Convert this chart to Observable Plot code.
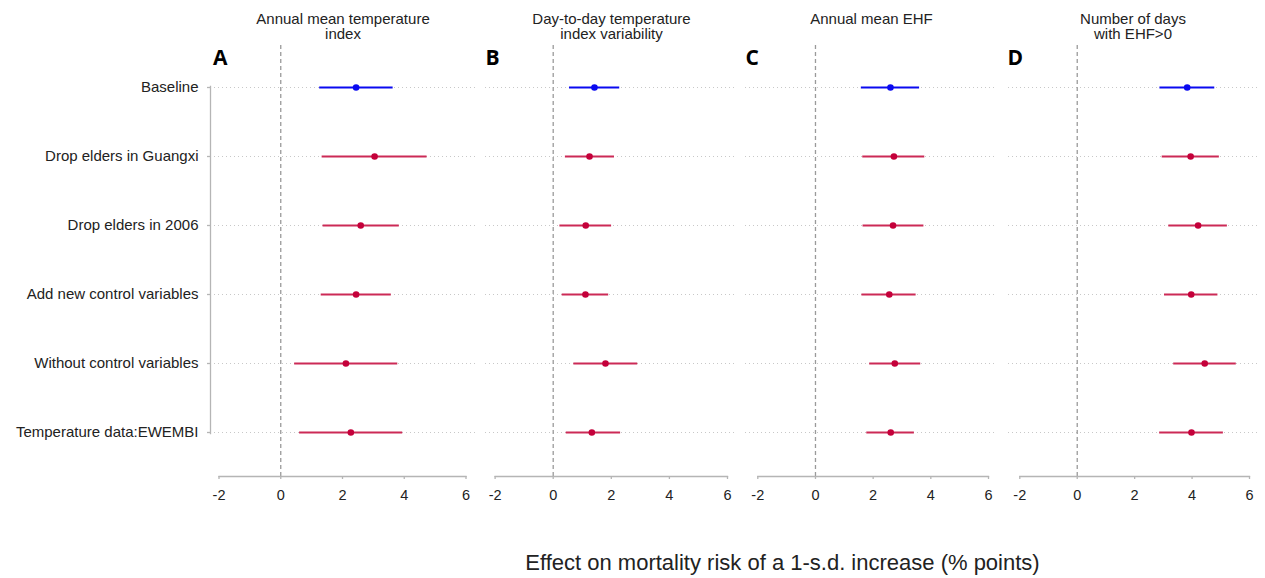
<!DOCTYPE html>
<html>
<head>
<meta charset="utf-8">
<script src="https://cdn.jsdelivr.net/npm/d3@7"></script>
<script src="https://cdn.jsdelivr.net/npm/@observablehq/plot@0.6"></script>
<style>
  body { margin: 0; background: #fff; font-family: "Liberation Sans", Arial, sans-serif; }
  #chart { position: relative; width: 1265px; height: 578px; overflow: hidden; }
  #chart svg { position: absolute; top: 0; overflow: visible; }
  #xtitle { position: absolute; left: 0; width: 1265px; top: 550px; text-align: center;
            font-size: 22px; line-height: 26px; color: #222; padding-left: 300px; box-sizing: border-box; }
</style>
</head>
<body>
<div id="chart"><div id="xtitle">Effect on mortality risk of a 1-s.d. increase (% points)</div></div>
<script>
// ---- data ----
const specifications = [
  "Baseline",
  "Drop elders in Guangxi",
  "Drop elders in 2006",
  "Add new control variables",
  "Without control variables",
  "Temperature data:EWEMBI"
];
const panelLetters = ["A", "B", "C", "D"];
const panelTitles = [
  "Annual mean temperature\nindex",
  "Day-to-day temperature\nindex variability",
  "Annual mean EHF",
  "Number of days\nwith EHF>0"
];
const xTicks = [-2, 0, 2, 4, 6];

// Panel A: annual mean temperature index
const estA  = [2.44, 3.04, 2.59, 2.44, 2.11, 2.27];
const lowA  = [1.26, 1.34, 1.37, 1.31, 0.45, 0.61];
const highA = [3.64, 4.74, 3.84, 3.58, 3.79, 3.95];
// Panel B: day-to-day temperature index variability
const estB  = [1.42, 1.25, 1.12, 1.11, 1.80, 1.33];
const lowB  = [0.56, 0.42, 0.23, 0.31, 0.71, 0.45];
const highB = [2.29, 2.11, 2.01, 1.91, 2.91, 2.32];
// Panel C: annual mean EHF
const estC  = [2.60, 2.72, 2.69, 2.56, 2.75, 2.61];
const lowC  = [1.59, 1.64, 1.65, 1.61, 1.88, 1.78];
const highC = [3.61, 3.79, 3.76, 3.49, 3.65, 3.43];
// Panel D: number of days with EHF>0
const estD  = [3.83, 3.95, 4.21, 3.97, 4.44, 3.98];
const lowD  = [2.88, 2.96, 3.19, 3.04, 3.36, 2.87];
const highD = [4.79, 4.95, 5.23, 4.90, 5.54, 5.09];

const estimates = [estA, estB, estC, estD];
const lows = [lowA, lowB, lowC, lowD];
const highs = [highA, highB, highC, highD];

// ---- layout (pixels) ----
const layout = [
  {frame: [210, 475], px: [218.5, 465.5], letterDx: 2.5},
  {frame: [485, 737], px: [494.6, 727],   letterDx: 0},
  {frame: [745, 997], px: [757.3, 988],   letterDx: 0},
  {frame: [1008, 1257], px: [1019.3, 1249], letterDx: -1}
];
const H = 520, marginTop = 45, marginBottom = H - 476;
const blue = "#0a0af0", red = "#c4003a", redLine = "#cc2a56";

const chart = document.getElementById("chart");

panelLetters.forEach((letter, p) => {
  const L = layout[p];
  const isFirst = p === 0;
  const mLeft = isFirst ? L.frame[0] : 5;
  const mRight = 5;
  const svgLeft = L.frame[0] - mLeft;
  const width = L.frame[1] - svgLeft + mRight;
  const rows = specifications.map((s, i) => ({
    spec: s, est: estimates[p][i], lo: lows[p][i], hi: highs[p][i], base: i === 0
  }));
  const insetLeft = L.px[0] - L.frame[0];
  const insetRight = L.frame[1] - L.px[1];

  const marks = [
    Plot.ruleY(specifications, {y: d => d, stroke: "#c8c8c8", strokeDasharray: "1,3", strokeWidth: 1}),
    Plot.ruleX([0], {stroke: "#9a9a9a", strokeDasharray: "4,3", strokeWidth: 1.3}),
    Plot.frame({anchor: "bottom", insetLeft, insetRight, stroke: "#b5b5b5", strokeWidth: 1.3}),
    Plot.axisX({ticks: xTicks, tickSize: 3, tickPadding: 10, tickFormat: d => String(d),
                fontSize: 14.5, fill: "#222", stroke: "#b5b5b5", strokeWidth: 1.3, label: null}),
    Plot.ruleY(rows, {y: "spec", x1: "lo", x2: "hi", stroke: d => d.base ? blue : redLine, strokeWidth: 1.8}),
    Plot.dot(rows, {x: "est", y: "spec", r: 3.3, fill: d => d.base ? blue : red, stroke: "none"}),
    Plot.text([panelTitles[p]], {text: d => d, frameAnchor: "top", lineAnchor: "top", dy: -32.3,
               fontSize: 15, fill: "#222", lineHeight: 1}),
    Plot.text([letter], {text: d => d, frameAnchor: "top-left", textAnchor: "start", lineAnchor: "top",
               dx: L.letterDx, dy: 5, fontSize: 21, fontWeight: 700, fontFamily: "Open Sans", fill: "#000"})
  ];
  if (isFirst) {
    marks.push(Plot.frame({anchor: "left", insetTop: 41, insetBottom: 43, stroke: "#b5b5b5", strokeWidth: 1.3}));
    marks.push(Plot.axisY({tickSize: 3, tickPadding: 9, fontSize: 15, fill: "#222", stroke: "#b5b5b5",
                           strokeWidth: 1.3, label: null}));
  }

  const svg = Plot.plot({
    width, height: H,
    marginLeft: mLeft, marginRight: mRight, marginTop, marginBottom,
    style: {fontFamily: "Liberation Sans, Arial, sans-serif", background: "transparent", overflow: "visible"},
    x: {domain: [-2, 6], insetLeft, insetRight, axis: null},
    y: {type: "point", domain: specifications, padding: 0, insetTop: 41, insetBottom: 43, axis: null},
    marks
  });
  svg.style.left = svgLeft + "px";
  chart.appendChild(svg);
});
</script>
</body>
</html>
